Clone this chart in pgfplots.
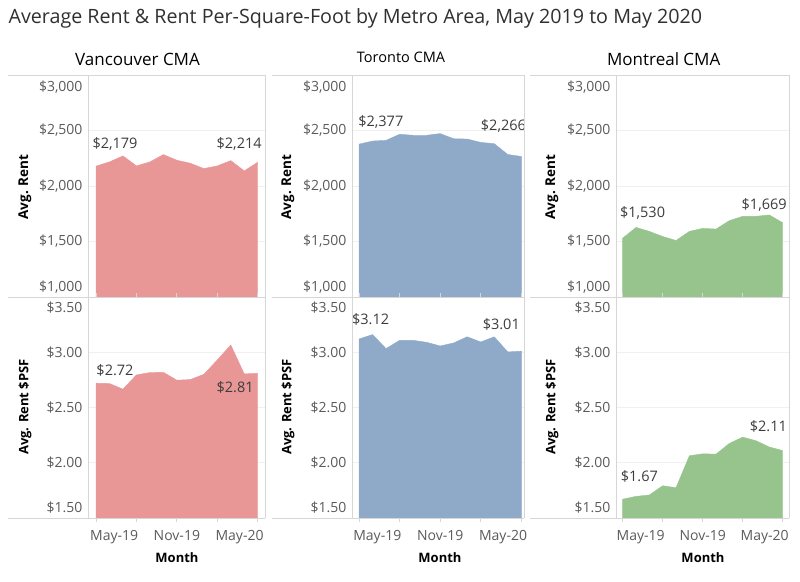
\documentclass[border=0pt]{standalone}
\usepackage{fontspec}
\setmainfont{Open Sans}
\usepackage{pgfplots}
\pgfplotsset{compat=1.18}
\definecolor{vanc}{RGB}{233,150,150}
\definecolor{toro}{RGB}{143,170,200}
\definecolor{mont}{RGB}{150,196,140}
\definecolor{bord}{RGB}{214,214,214}
\definecolor{gridc}{RGB}{240,240,240}
\definecolor{ticktext}{RGB}{90,90,90}
\definecolor{labtext}{RGB}{60,60,60}
\tikzset{dlab/.style={font=\fontsize{14.5}{16}\selectfont, text=labtext}}
\pgfplotsset{
  panel/.style={scale only axis, anchor=north west,
    axis line style={draw=none}, major tick length=0pt,
    ymajorgrids, grid style={gridc, line width=0.8pt},
    tick label style={font=\fontsize{14}{16}\selectfont, text=ticktext},
    yticklabel style={xshift=-2pt},
    xticklabel style={yshift=-9pt},
    clip=true},
  toprow/.style={panel, height=222pt, ymin=1000, ymax=3000,
    ytick={1500,2000,2500}, yticklabels={{\$1,500},{\$2,000},{\$2,500}},
    extra y ticks={1090,2892}, extra y tick labels={{\$1,000},{\$3,000}},
    extra y tick style={grid=none},
    xtick=\empty},
  botrow/.style={panel, height=221pt, ymin=1.5, ymax=3.5,
    ytick={2,2.5,3}, yticklabels={{\$2.00},{\$2.50},{\$3.00}},
    extra y ticks={1.59,3.40}, extra y tick labels={{\$1.50},{\$3.50}},
    extra y tick style={grid=none},
    xtick={1.35,6,10.65}, xticklabels={May-19,Nov-19,May-20},
    minor xtick={0,3,6,9,12}, minor tick length=4pt, tick align=outside,
    minor tick style={bord, line width=0.8pt}}
}
\begin{document}
\begin{tikzpicture}[x=1pt,y=1pt]
\path[use as bounding box] (0,0) rectangle (800,-581);
\node[anchor=west, font=\fontsize{19.7}{22}\selectfont, text=labtext!80!black] at (5,-18) {Average Rent \& Rent Per-Square-Foot by Metro Area, May 2019 to May 2020};
\node[font=\fontsize{17}{20}\selectfont] at (137.5,-59) {Vancouver CMA};
\node[font=\fontsize{14.5}{17}\selectfont] at (401,-57) {Toronto CMA};
\node[font=\fontsize{17}{20}\selectfont] at (663.7,-59) {Montreal CMA};

% ---------- Vancouver ----------
\begin{axis}[toprow, at={(88pt,-75pt)}, width=177pt, xmin=-0.594, xmax=12.54]
\addplot[fill=vanc, draw=vanc] coordinates {(0,2179)(1,2217)(2,2271)(3,2181)(4,2217)(5,2283)(6,2232)(7,2205)(8,2157)(9,2181)(10,2229)(11,2136)(12,2214)} \closedcycle;
\node[dlab] at (axis cs:1.41,2378) {\$2,179};
\node[dlab] at (axis cs:10.62,2378) {\$2,214};
\end{axis}
\begin{axis}[botrow, at={(88pt,-297pt)}, width=177pt, xmin=-0.594, xmax=12.54]
\addplot[fill=vanc, draw=vanc] coordinates {(0,2.72)(1,2.717)(2,2.666)(3,2.795)(4,2.816)(5,2.819)(6,2.747)(7,2.753)(8,2.80)(9,2.93)(10,3.066)(11,2.804)(12,2.81)} \closedcycle;
\node[dlab] at (axis cs:1.41,2.839) {\$2.72};
\node[dlab] at (axis cs:10.32,2.683) {\$2.81};
\end{axis}

% ---------- Toronto ----------
\begin{axis}[toprow, at={(352pt,-75pt)}, width=172pt, xmin=-0.518, xmax=12.2]
\addplot[fill=toro, draw=toro] coordinates {(0,2377)(1,2405)(2,2411)(3,2466)(4,2457)(5,2457)(6,2472)(7,2426)(8,2423)(9,2393)(10,2381)(11,2284)(12,2266)} \closedcycle;
\node[dlab] at (axis cs:1.61,2579) {\$2,377};
\node[dlab] at (axis cs:10.68,2543) {\$2,266};
\end{axis}
\begin{axis}[botrow, at={(352pt,-297pt)}, width=172pt, xmin=-0.518, xmax=12.2]
\addplot[fill=toro, draw=toro] coordinates {(0,3.12)(1,3.16)(2,3.033)(3,3.108)(4,3.108)(5,3.09)(6,3.057)(7,3.084)(8,3.14)(9,3.093)(10,3.14)(11,3.003)(12,3.01)} \closedcycle;
\node[dlab] at (axis cs:0.86,3.301) {\$3.12};
\node[dlab] at (axis cs:10.52,3.256) {\$3.01};
\end{axis}

% ---------- Montreal ----------
\begin{axis}[toprow, at={(616pt,-75pt)}, width=173pt, xmin=-0.5, xmax=12.47]
\addplot[fill=mont, draw=mont] coordinates {(0,1530)(1,1627)(2,1591)(3,1545)(4,1509)(5,1591)(6,1618)(7,1612)(8,1688)(9,1727)(10,1727)(11,1739)(12,1669)} \closedcycle;
\node[dlab] at (axis cs:1.49,1754) {\$1,530};
\node[dlab] at (axis cs:10.61,1829) {\$1,669};
\end{axis}
\begin{axis}[botrow, at={(616pt,-297pt)}, width=173pt, xmin=-0.5, xmax=12.47]
\addplot[fill=mont, draw=mont] coordinates {(0,1.67)(1,1.696)(2,1.708)(3,1.792)(4,1.774)(5,2.063)(6,2.081)(7,2.078)(8,2.175)(9,2.232)(10,2.199)(11,2.142)(12,2.11)} \closedcycle;
\node[dlab] at (axis cs:1.25,1.874) {\$1.67};
\node[dlab] at (axis cs:10.92,2.326) {\$2.11};
\end{axis}

% ---------- borders ----------
\begin{scope}[bord, line width=0.9pt]
\foreach \l/\a/\r in {8/88/265, 272/352/524, 530/616/789} {
  \draw (\l,-75) -- (\r,-75);
  \draw (\l,-297) -- (\r,-297);
  \draw (\l,-518) -- (\r,-518);
  \draw (\a,-75) -- (\a,-518);
  \draw (\r,-75) -- (\r,-518);
}
\end{scope}

% ---------- axis titles ----------
\foreach \x in {25,288,552} {
  \node[rotate=90, font=\bfseries\fontsize{13.5}{15}\selectfont] at (\x,-187) {Avg. Rent};
  \node[rotate=90, font=\bfseries\fontsize{13}{15}\selectfont] at (\x,-407) {Avg. Rent \$PSF};
}
\foreach \x in {177,440,703} {
  \node[font=\bfseries\fontsize{13}{15}\selectfont] at (\x,-558) {Month};
}
\end{tikzpicture}
\end{document}
